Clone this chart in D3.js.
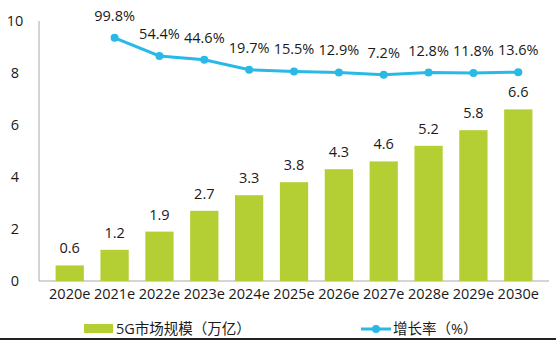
<!DOCTYPE html>
<html>
<head>
<meta charset="utf-8">
<script src="https://cdn.jsdelivr.net/npm/d3@7"></script>
<style>
  body { margin: 0; background: #fff; }
  text { font-family: "Open Sans", "Noto Sans CJK SC", sans-serif; fill: #1a1a1a; }
</style>
</head>
<body>
<div id="chart"></div>
<script>
// data
var years = ["2020e", "2021e", "2022e", "2023e", "2024e", "2025e", "2026e", "2027e", "2028e", "2029e", "2030e"];
var market = [0.6, 1.2, 1.9, 2.7, 3.3, 3.8, 4.3, 4.6, 5.2, 5.8, 6.6];
var growth = [null, 99.8, 54.4, 44.6, 19.7, 15.5, 12.9, 7.2, 12.8, 11.8, 13.6];
var yTicks = [0, 2, 4, 6, 8, 10];

var W = 556, H = 340;
var margin = { top: 21, right: 7, bottom: 59, left: 39 },
    width = W - margin.left - margin.right,
    height = H - margin.top - margin.bottom;
var fs = "14.5px";

var svg = d3.select("#chart")
    .append("svg")
    .attr("width", W)
    .attr("height", H);

var g = svg.append("g")
    .attr("transform", "translate(" + margin.left + "," + margin.top + ")");

var xScale = d3.scaleBand().domain(years).range([0, width]).padding(0.37);
var yScale = d3.scaleLinear().domain([0, 10]).range([height, 0]);
// hidden right axis for growth rate
var y2Scale = d3.scaleLinear().domain([-510, 142]).range([height, 0]);

// left axis: labels only, plus a thin vertical line
g.append("line")
    .attr("x1", 0).attr("x2", 0)
    .attr("y1", 0).attr("y2", height)
    .attr("stroke", "#aaa");

g.selectAll(".ytick")
    .data(yTicks)
    .enter()
    .append("text")
    .attr("class", "ytick")
    .attr("x", -24)
    .attr("y", function (d) { return yScale(d); })
    .attr("dy", "0.35em")
    .attr("text-anchor", "middle")
    .style("font-size", fs)
    .text(function (d) { return d; });

// baseline
g.append("line")
    .attr("x1", 0).attr("x2", width)
    .attr("y1", height).attr("y2", height)
    .attr("stroke", "#aaa");

// bars
g.selectAll(".bar")
    .data(market)
    .enter()
    .append("rect")
    .attr("class", "bar")
    .attr("x", function (d, i) { return xScale(years[i]); })
    .attr("y", function (d) { return yScale(d); })
    .attr("width", xScale.bandwidth())
    .attr("height", function (d) { return height - yScale(d); })
    .attr("fill", "#b3cf33");

g.selectAll(".barlabel")
    .data(market)
    .enter()
    .append("text")
    .attr("class", "barlabel")
    .attr("x", function (d, i) { return xScale(years[i]) + xScale.bandwidth() / 2; })
    .attr("y", function (d) { return yScale(d) - 12; })
    .attr("text-anchor", "middle")
    .style("font-size", fs)
    .text(function (d) { return d.toFixed(1); });

// x labels
g.selectAll(".xlabel")
    .data(years)
    .enter()
    .append("text")
    .attr("class", "xlabel")
    .attr("x", function (d) { return xScale(d) + xScale.bandwidth() / 2; })
    .attr("y", height + 13)
    .attr("dy", "0.35em")
    .attr("text-anchor", "middle")
    .style("font-size", fs)
    .text(function (d) { return d; });

// growth line
var pts = growth.map(function (v, i) { return { year: years[i], v: v }; })
    .filter(function (d) { return d.v !== null; });

var line = d3.line()
    .x(function (d) { return xScale(d.year) + xScale.bandwidth() / 2; })
    .y(function (d) { return y2Scale(d.v); });

g.append("path")
    .datum(pts)
    .attr("d", line)
    .attr("fill", "none")
    .attr("stroke", "#29b9e6")
    .attr("stroke-width", 3);

g.selectAll(".dot")
    .data(pts)
    .enter()
    .append("circle")
    .attr("class", "dot")
    .attr("cx", function (d) { return xScale(d.year) + xScale.bandwidth() / 2; })
    .attr("cy", function (d) { return y2Scale(d.v); })
    .attr("r", 4)
    .attr("fill", "#29b9e6");

g.selectAll(".ratelabel")
    .data(pts)
    .enter()
    .append("text")
    .attr("class", "ratelabel")
    .attr("x", function (d) { return xScale(d.year) + xScale.bandwidth() / 2; })
    .attr("y", function (d) { return y2Scale(d.v) - 17; })
    .attr("text-anchor", "middle")
    .style("font-size", fs)
    .text(function (d) { return d.v.toFixed(1) + "%"; });

// legend
var leg = svg.append("g").attr("transform", "translate(0,329)");
leg.append("rect")
    .attr("x", 84).attr("y", -5)
    .attr("width", 29).attr("height", 9)
    .attr("fill", "#b3cf33");
leg.append("text")
    .attr("x", 116).attr("y", 0)
    .attr("dy", "0.35em")
    .style("font-size", fs)
    .text("5G市场规模（万亿）");

leg.append("line")
    .attr("x1", 361).attr("x2", 391)
    .attr("y1", 0).attr("y2", 0)
    .attr("stroke", "#29b9e6")
    .attr("stroke-width", 3);
leg.append("circle")
    .attr("cx", 376).attr("cy", 0)
    .attr("r", 4)
    .attr("fill", "#29b9e6");
leg.append("text")
    .attr("x", 393).attr("y", 0)
    .attr("dy", "0.35em")
    .style("font-size", fs)
    .text("增长率（%）");

// dark rule along the bottom edge
svg.append("line")
    .attr("x1", 0).attr("x2", W)
    .attr("y1", 339).attr("y2", 339)
    .attr("stroke", "#222")
    .attr("stroke-width", 2);
</script>
</body>
</html>
